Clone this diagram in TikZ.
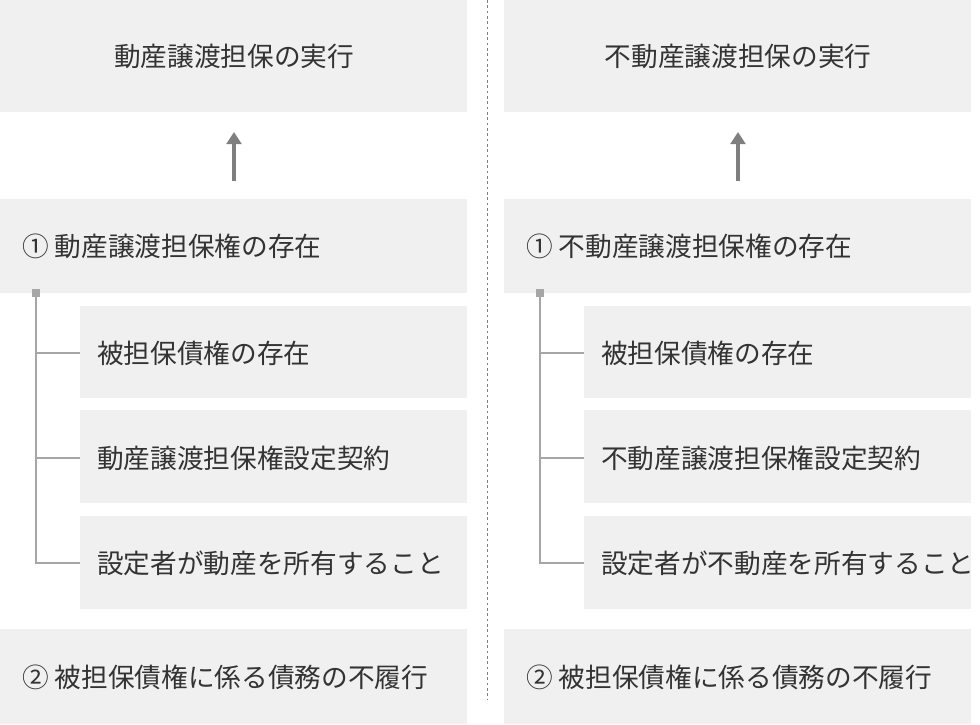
\documentclass[tikz,border=0pt]{standalone}
\usepackage{fontspec}
\usetikzlibrary{arrows.meta}
\setmainfont{Noto Sans CJK JP}
\begin{document}
\begin{tikzpicture}[x=0.75pt,y=-0.75pt,
  box/.style={fill=boxgray,draw=none},
  txt/.style={text=txtgray,font=\fontsize{20}{24}\selectfont,inner sep=0pt},
  brk/.style={draw=linegray,line width=0.8pt}]
\definecolor{boxgray}{HTML}{F0F0F0}
\definecolor{txtgray}{HTML}{333333}
\definecolor{linegray}{HTML}{A6A6A6}
\definecolor{arrgray}{HTML}{7F7F7F}
\useasboundingbox (0,0) rectangle (980,724);
\foreach \ox/\p in {0/L,504/R}{
  \fill[boxgray] (\ox,0) rectangle (\ox+467,112);
  \fill[boxgray] (\ox,199) rectangle (\ox+467,293);
  \fill[boxgray] (\ox+80,306) rectangle (\ox+467,398);
  \fill[boxgray] (\ox+80,410) rectangle (\ox+467,503);
  \fill[boxgray] (\ox+80,516) rectangle (\ox+467,609);
  \fill[boxgray] (\ox,629) rectangle (\ox+467,724);
  \coordinate (a1\p) at (\ox+234,181);
  \coordinate (a2\p) at (\ox+234,132);
  \draw[arrgray,line width=3pt,-{Triangle[length=9pt,width=11pt]}] (a1\p) -- (a2\p);
  \fill[linegray] (\ox+32,289) rectangle (\ox+40,297);
  \coordinate (b0\p) at (\ox+36,297);
  \coordinate (b3\p) at (\ox+36,563);
  \draw[brk] (b0\p) -- (b3\p) -- (\ox+80,563);
  \draw[brk] (\ox+36,353) -- (\ox+80,353);
  \draw[brk] (\ox+36,458) -- (\ox+80,458);
}
\node[txt] (tL) at (234,56) {動産譲渡担保の実行};
\node[txt] (tR) at (738,56) {不動産譲渡担保の実行};
\node[txt,anchor=west] (c1L) at (22,246) {① 動産譲渡担保権の存在};
\node[txt,anchor=west] (c1R) at (526,246) {① 不動産譲渡担保権の存在};
\node[txt,anchor=west] (s1L) at (97,353) {被担保債権の存在};
\node[txt,anchor=west] (s1R) at (601,353) {被担保債権の存在};
\node[txt,anchor=west] (s2L) at (97,458) {動産譲渡担保権設定契約};
\node[txt,anchor=west] (s2R) at (601,458) {不動産譲渡担保権設定契約};
\node[txt,anchor=west] (s3L) at (97,563) {設定者が動産を所有すること};
\node[txt,anchor=west] (s3R) at (601,563) {設定者が不動産を所有すること};
\node[txt,anchor=west] (c2L) at (22,677) {② 被担保債権に係る債務の不履行};
\node[txt,anchor=west] (c2R) at (526,677) {② 被担保債権に係る債務の不履行};
\coordinate (d1) at (487,0);
\coordinate (d2) at (487,700);
\draw[arrgray,dashed,dash pattern=on 2pt off 2pt,line width=0.6pt] (d1) -- (d2);
\end{tikzpicture}
\end{document}
